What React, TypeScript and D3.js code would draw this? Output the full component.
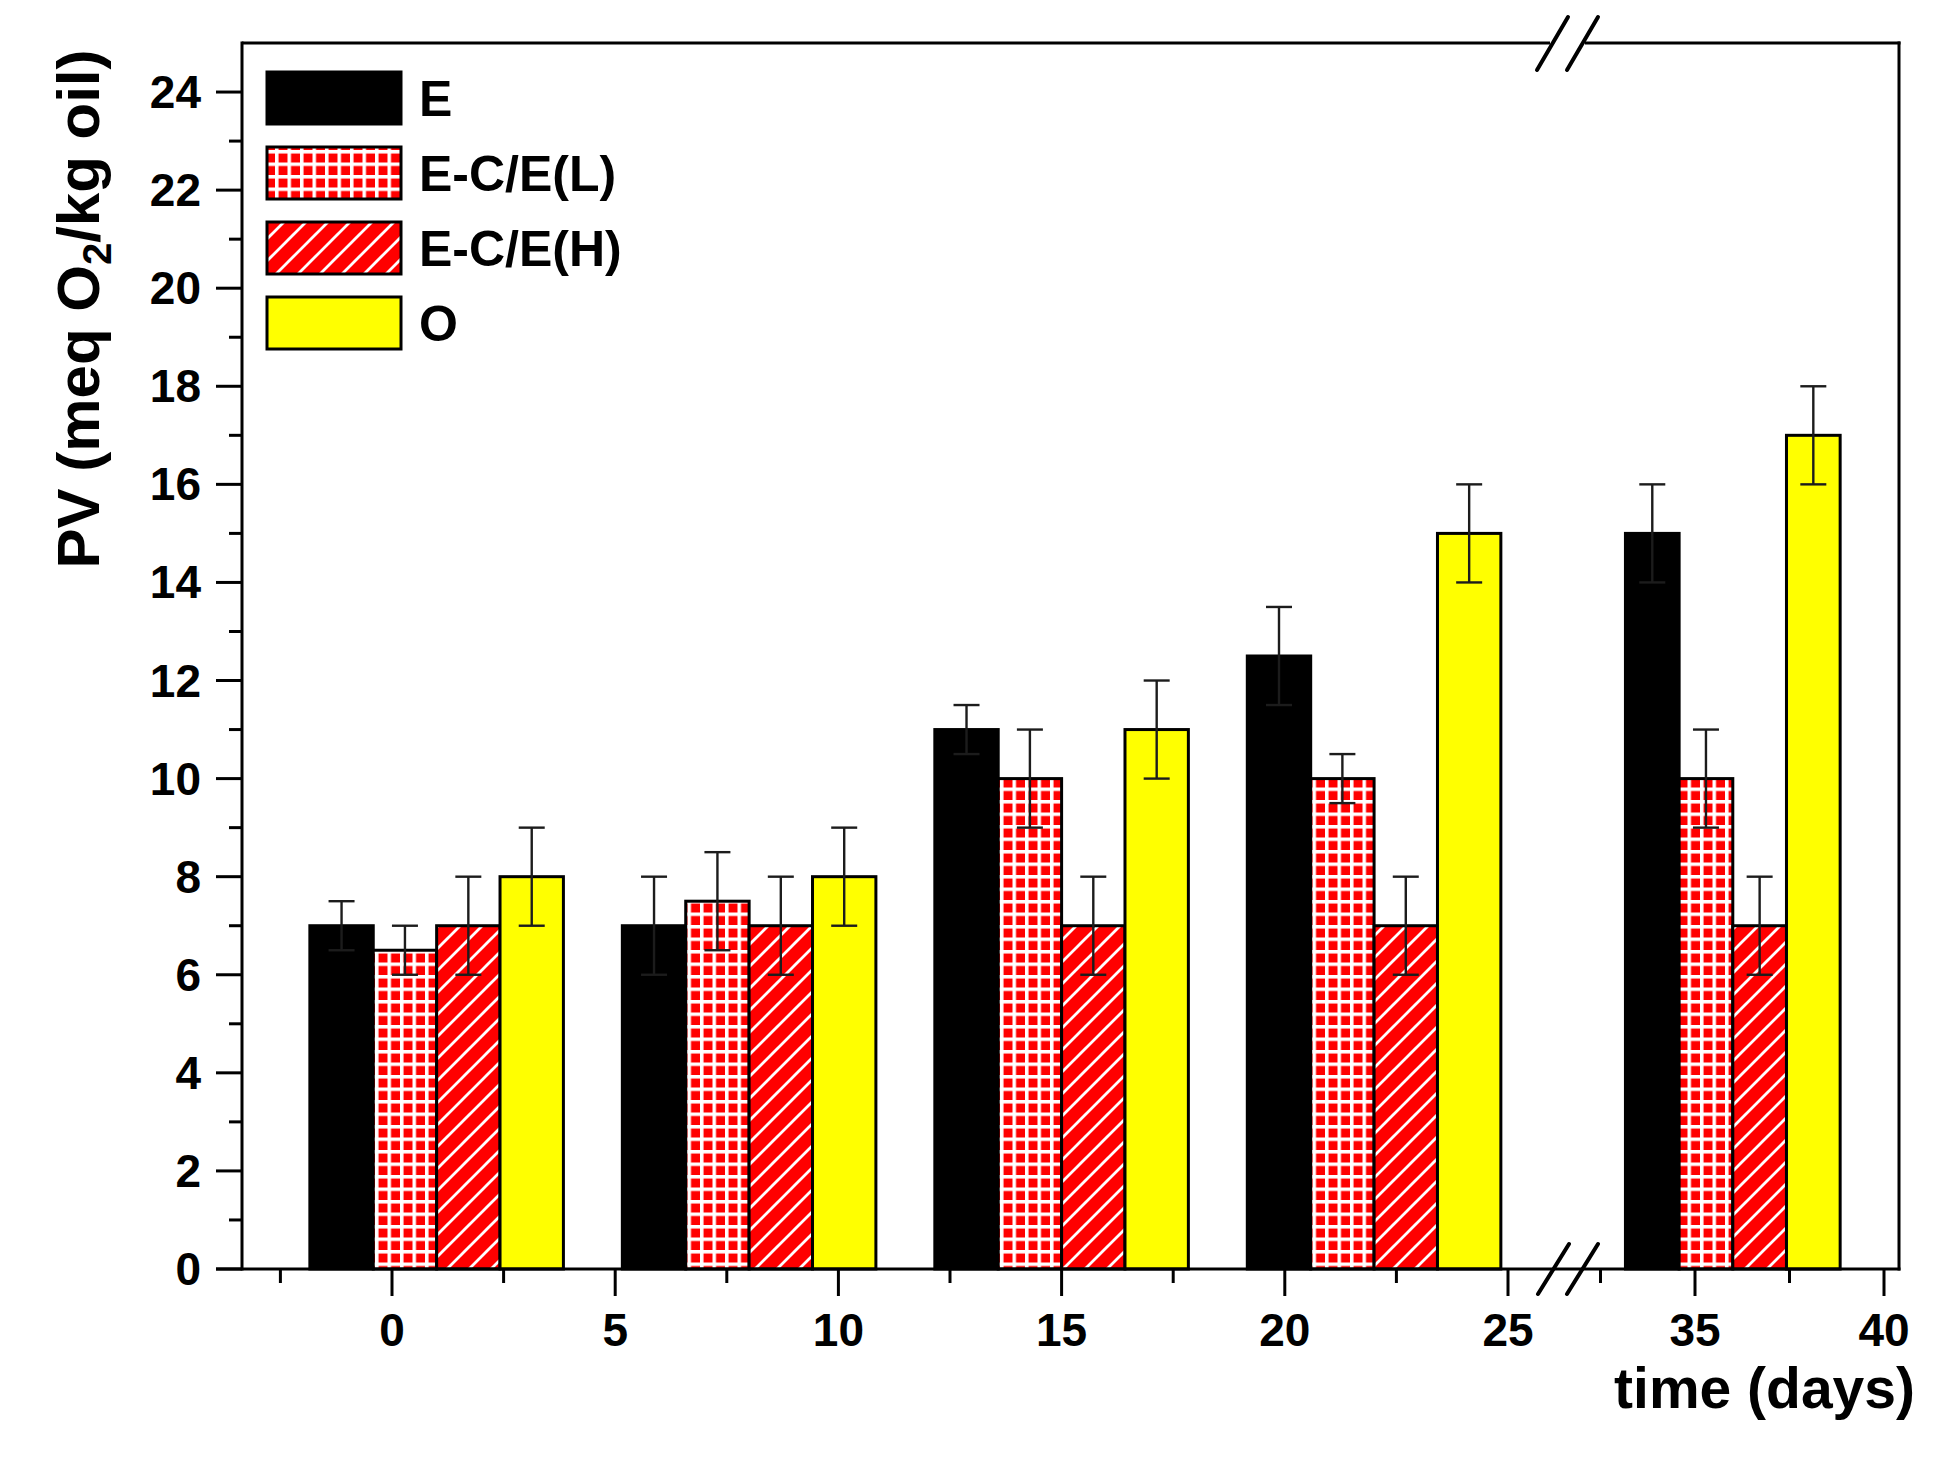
import * as d3 from "d3";

// days at which each group of bars is centred
const days = [1, 8, 15, 22, 36];
const seriesNames = ["E", "E-C/E(L)", "E-C/E(H)", "O"];
const valuesE = [7, 7, 11, 12.5, 15];
const valuesL = [6.5, 7.5, 10, 10, 10];
const valuesH = [7, 7, 7, 7, 7];
const valuesO = [8, 8, 11, 15, 17];
const errE = [0.5, 1, 0.5, 1, 1];
const errL = [0.5, 1, 1, 0.5, 1];
const errH = [1, 1, 1, 1, 1];
const errO = [1, 1, 1, 1, 1];
const yTicks = [0, 2, 4, 6, 8, 10, 12, 14, 16, 18, 20, 22, 24];
const xTicksLeft = [0, 5, 10, 15, 20, 25];
const xTicksRight = [35, 40];

const W = 1956;
const H = 1474;
const left = 242;
const right = 1899;
const top = 43;
const bottom = 1269;
const breakAt = 26;
const font = "Arial, 'Liberation Sans', Helvetica, sans-serif";
const barDays = 1.42;

const fills = ["#000000", "url(#grid)", "url(#hatch)", "#ffff00"];

export default function App() {
  const y = d3.scaleLinear([0, 25], [bottom, top]);
  const xA = d3.scaleLinear([0, 25], [392, 1508]);
  const xB = d3.scaleLinear([35, 40], [1695, 1884]);
  const xOf = (d: number) => (d < breakAt ? xA : xB);

  const values = [valuesE, valuesL, valuesH, valuesO];
  const errs = [errE, errL, errH, errO];

  const minorY = d3.range(1, 25, 2);
  const minorA = d3.range(-2.5, 25, 5);
  const minorB = [32.5, 37.5];

  return (
    <svg width={W} height={H} style={{ position: "absolute", left: 0, top: 0, background: "#fff" }} fontFamily={font}>
      <defs>
        <pattern id="grid" patternUnits="userSpaceOnUse" width="12.5" height="12.5">
          <rect width="12.5" height="12.5" fill="#ff0000" />
          <rect width="12.5" height="3.5" fill="#ffffff" />
          <rect width="3.5" height="12.5" fill="#ffffff" />
        </pattern>
        <pattern id="hatch" patternUnits="userSpaceOnUse" width="22" height="22">
          <rect width="22" height="22" fill="#ff0000" />
          <path d="M-5.5,5.5 L5.5,-5.5 M0,22 L22,0 M16.5,27.5 L27.5,16.5" stroke="#ffffff" strokeWidth="2.8" />
        </pattern>
      </defs>

      {/* bars */}
      {values.map((vals, s) =>
        vals.map((v, i) => {
          const sc = xOf(days[i]);
          const x0 = sc(days[i] + (s - 2) * barDays);
          const x1 = sc(days[i] + (s - 1) * barDays);
          return (
            <rect key={`b${s}-${i}`} x={x0} y={y(v)} width={x1 - x0} height={y(0) - y(v)}
              fill={fills[s]} stroke="#000" strokeWidth={3} />
          );
        })
      )}

      {/* error bars */}
      {values.map((vals, s) =>
        vals.map((v, i) => {
          const sc = xOf(days[i]);
          const cx = sc(days[i] + (s - 1.5) * barDays);
          const e = errs[s][i];
          return (
            <g key={`e${s}-${i}`} stroke="#1c1c1c" strokeWidth={2.4}>
              <line x1={cx} x2={cx} y1={y(v + e)} y2={y(v - e)} />
              <line x1={cx - 13} x2={cx + 13} y1={y(v + e)} y2={y(v + e)} />
              <line x1={cx - 13} x2={cx + 13} y1={y(v - e)} y2={y(v - e)} />
            </g>
          );
        })
      )}

      {/* frame */}
      <g stroke="#000" strokeWidth={3} fill="none">
        <line x1={left} x2={left} y1={top - 1.5} y2={bottom + 1.5} />
        <line x1={right} x2={right} y1={top - 1.5} y2={bottom + 1.5} />
        <line x1={left - 26} x2={right + 1.5} y1={bottom} y2={bottom} />
        <line x1={left} x2={1550} y1={top} y2={top} />
        <line x1={1585} x2={right + 1.5} y1={top} y2={top} />
      </g>

      {/* axis breaks */}
      <g stroke="#000" strokeWidth={4} strokeLinecap="round">
        <line x1={1537} y1={70} x2={1568} y2={17} />
        <line x1={1567} y1={70} x2={1598} y2={17} />
        <line x1={1538} y1={1294} x2={1569} y2={1244} />
        <line x1={1567} y1={1294} x2={1598} y2={1244} />
      </g>

      {/* y ticks */}
      <g stroke="#000" strokeWidth={3}>
        {yTicks.map((t) => (
          <line key={`yt${t}`} x1={left - 26} x2={left} y1={y(t)} y2={y(t)} />
        ))}
        {minorY.map((t) => (
          <line key={`ym${t}`} x1={left - 13} x2={left} y1={y(t)} y2={y(t)} />
        ))}
      </g>
      <g fontSize={46} fontWeight="bold" textAnchor="end">
        {yTicks.map((t) => (
          <text key={`yl${t}`} x={201} y={y(t) + 16}>{t}</text>
        ))}
      </g>

      {/* x ticks */}
      <g stroke="#000" strokeWidth={3}>
        {xTicksLeft.map((t) => (
          <line key={`xa${t}`} x1={xA(t)} x2={xA(t)} y1={bottom} y2={bottom + 27} />
        ))}
        {xTicksRight.map((t) => (
          <line key={`xb${t}`} x1={xB(t)} x2={xB(t)} y1={bottom} y2={bottom + 27} />
        ))}
        {minorA.map((t) => (
          <line key={`ma${t}`} x1={xA(t)} x2={xA(t)} y1={bottom} y2={bottom + 14} />
        ))}
        {minorB.map((t) => (
          <line key={`mb${t}`} x1={xB(t)} x2={xB(t)} y1={bottom} y2={bottom + 14} />
        ))}
      </g>
      <g fontSize={46} fontWeight="bold" textAnchor="middle">
        {xTicksLeft.map((t) => (
          <text key={`la${t}`} x={xA(t)} y={1346}>{t}</text>
        ))}
        {xTicksRight.map((t) => (
          <text key={`lb${t}`} x={xB(t)} y={1346}>{t}</text>
        ))}
      </g>

      {/* axis titles */}
      <text x={1915} y={1408} fontSize={57} fontWeight="bold" textAnchor="end">time (days)</text>
      <text transform={`translate(99,309) rotate(-90)`} fontSize={60} fontWeight="bold" textAnchor="middle">
        PV (meq O<tspan fontSize={40} dy={12}>2</tspan><tspan dy={-12}>/kg oil)</tspan>
      </text>

      {/* legend */}
      {seriesNames.map((n, s) => {
        const yc = 98 + s * 75;
        return (
          <g key={`lg${s}`}>
            <rect x={267} y={yc - 26} width={134} height={52} fill={fills[s]} stroke="#000" strokeWidth={3} />
            <text x={419} y={yc + 18} fontSize={50} fontWeight="bold">{n}</text>
          </g>
        );
      })}
    </svg>
  );
}
